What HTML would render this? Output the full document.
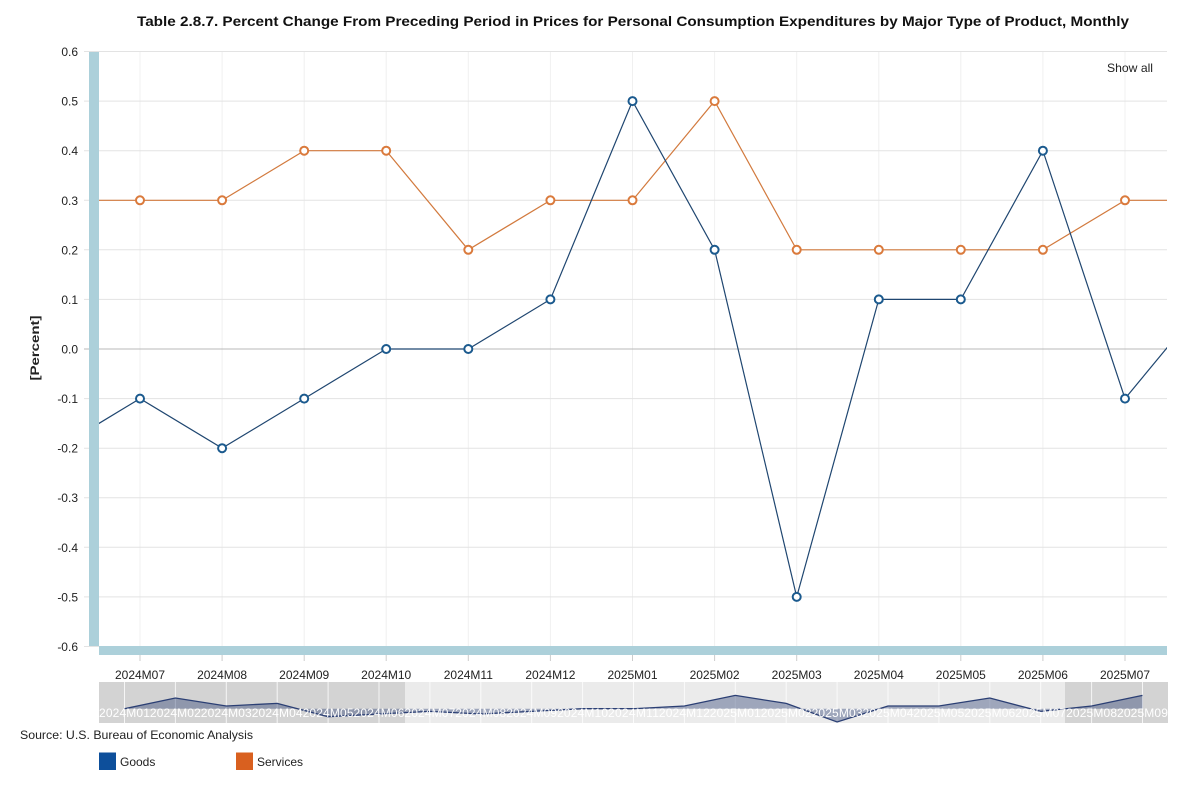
<!DOCTYPE html>
<html><head><meta charset="utf-8"><style>
html,body{margin:0;padding:0;background:#fff;}
svg{display:block;font-family:"Liberation Sans",Arial,sans-serif;}
</style></head><body>
<svg width="1187" height="800" viewBox="0 0 1187 800" xmlns="http://www.w3.org/2000/svg">
<defs><clipPath id="pc"><rect x="99" y="40" width="1068" height="620"/></clipPath></defs>
<text x="137" y="26" font-size="14" font-weight="bold" fill="#111" textLength="992" lengthAdjust="spacingAndGlyphs">Table 2.8.7. Percent Change From Preceding Period in Prices for Personal Consumption Expenditures by Major Type of Product, Monthly</text>

<!-- vertical gridlines -->
<g stroke="#f0f0f0" stroke-width="1">
<line x1="140" y1="52" x2="140" y2="646"/><line x1="222.1" y1="52" x2="222.1" y2="646"/><line x1="304.2" y1="52" x2="304.2" y2="646"/><line x1="386.2" y1="52" x2="386.2" y2="646"/><line x1="468.3" y1="52" x2="468.3" y2="646"/><line x1="550.4" y1="52" x2="550.4" y2="646"/><line x1="632.5" y1="52" x2="632.5" y2="646"/><line x1="714.6" y1="52" x2="714.6" y2="646"/><line x1="796.7" y1="52" x2="796.7" y2="646"/><line x1="878.8" y1="52" x2="878.8" y2="646"/><line x1="960.8" y1="52" x2="960.8" y2="646"/><line x1="1042.9" y1="52" x2="1042.9" y2="646"/><line x1="1125" y1="52" x2="1125" y2="646"/>
</g>
<!-- horizontal gridlines -->
<g stroke="#e3e3e3" stroke-width="1">
<line x1="84" y1="51.5" x2="1167" y2="51.5"/><line x1="84" y1="101.1" x2="1167" y2="101.1"/><line x1="84" y1="150.7" x2="1167" y2="150.7"/><line x1="84" y1="200.3" x2="1167" y2="200.3"/><line x1="84" y1="249.8" x2="1167" y2="249.8"/><line x1="84" y1="299.4" x2="1167" y2="299.4"/><line x1="84" y1="398.6" x2="1167" y2="398.6"/><line x1="84" y1="448.2" x2="1167" y2="448.2"/><line x1="84" y1="497.7" x2="1167" y2="497.7"/><line x1="84" y1="547.3" x2="1167" y2="547.3"/><line x1="84" y1="596.9" x2="1167" y2="596.9"/><line x1="84" y1="646.5" x2="1167" y2="646.5"/>
</g>
<line x1="84" y1="349" x2="1167" y2="349" stroke="#b8b8b8" stroke-width="1"/>

<!-- axis bars -->
<rect x="89" y="52" width="10" height="594" fill="#acd0da"/>
<rect x="99" y="646" width="1068" height="9" fill="#acd0da"/>
<g stroke="#ccc" stroke-width="1">
<line x1="140" y1="655" x2="140" y2="661"/><line x1="222.1" y1="655" x2="222.1" y2="661"/><line x1="304.2" y1="655" x2="304.2" y2="661"/><line x1="386.2" y1="655" x2="386.2" y2="661"/><line x1="468.3" y1="655" x2="468.3" y2="661"/><line x1="550.4" y1="655" x2="550.4" y2="661"/><line x1="632.5" y1="655" x2="632.5" y2="661"/><line x1="714.6" y1="655" x2="714.6" y2="661"/><line x1="796.7" y1="655" x2="796.7" y2="661"/><line x1="878.8" y1="655" x2="878.8" y2="661"/><line x1="960.8" y1="655" x2="960.8" y2="661"/><line x1="1042.9" y1="655" x2="1042.9" y2="661"/><line x1="1125" y1="655" x2="1125" y2="661"/>
</g>

<!-- y labels -->
<g font-size="12" fill="#222" text-anchor="end">
<text x="78" y="56">0.6</text><text x="78" y="105.6">0.5</text><text x="78" y="155.2">0.4</text><text x="78" y="204.8">0.3</text><text x="78" y="254.3">0.2</text><text x="78" y="303.9">0.1</text><text x="78" y="353.5">0.0</text><text x="78" y="403.1">-0.1</text><text x="78" y="452.7">-0.2</text><text x="78" y="502.2">-0.3</text><text x="78" y="551.8">-0.4</text><text x="78" y="601.4">-0.5</text><text x="78" y="651">-0.6</text>
</g>
<text transform="translate(39,348) rotate(-90)" text-anchor="middle" font-size="12" font-weight="bold" fill="#222" textLength="65" lengthAdjust="spacingAndGlyphs">[Percent]</text>

<!-- x labels -->
<g font-size="12" fill="#222" text-anchor="middle">
<text x="140" y="679">2024M07</text><text x="222.1" y="679">2024M08</text><text x="304.2" y="679">2024M09</text><text x="386.2" y="679">2024M10</text><text x="468.3" y="679">2024M11</text><text x="550.4" y="679">2024M12</text><text x="632.5" y="679">2025M01</text><text x="714.6" y="679">2025M02</text><text x="796.7" y="679">2025M03</text><text x="878.8" y="679">2025M04</text><text x="960.8" y="679">2025M05</text><text x="1042.9" y="679">2025M06</text><text x="1125" y="679">2025M07</text>
</g>

<text x="1107" y="72" font-size="12" fill="#222" textLength="46" lengthAdjust="spacingAndGlyphs">Show all</text>

<!-- series -->
<g clip-path="url(#pc)" fill="none" stroke-width="1.2">
<polyline stroke="#d27a3e" points="57.9,200.3 140,200.3 222.1,200.3 304.2,150.7 386.2,150.7 468.3,249.8 550.4,200.3 632.5,200.3 714.6,101.1 796.7,249.8 878.8,249.8 960.8,249.8 1042.9,249.8 1125,200.3 1207.1,200.3"/>
<polyline stroke="#1f4670" points="57.9,448.2 140,398.6 222.1,448.2 304.2,398.6 386.2,349 468.3,349 550.4,299.4 632.5,101.1 714.6,249.8 796.7,596.9 878.8,299.4 960.8,299.4 1042.9,150.7 1125,398.6 1207.1,299.4"/>
</g>
<g fill="#fff" stroke="#da7a3c" stroke-width="2">
<circle cx="140" cy="200.3" r="4"/><circle cx="222.1" cy="200.3" r="4"/><circle cx="304.2" cy="150.7" r="4"/><circle cx="386.2" cy="150.7" r="4"/><circle cx="468.3" cy="249.8" r="4"/><circle cx="550.4" cy="200.3" r="4"/><circle cx="632.5" cy="200.3" r="4"/><circle cx="714.6" cy="101.1" r="4"/><circle cx="796.7" cy="249.8" r="4"/><circle cx="878.8" cy="249.8" r="4"/><circle cx="960.8" cy="249.8" r="4"/><circle cx="1042.9" cy="249.8" r="4"/><circle cx="1125" cy="200.3" r="4"/>
</g>
<g fill="#fff" stroke="#1b5a8e" stroke-width="2">
<circle cx="140" cy="398.6" r="4"/><circle cx="222.1" cy="448.2" r="4"/><circle cx="304.2" cy="398.6" r="4"/><circle cx="386.2" cy="349" r="4"/><circle cx="468.3" cy="349" r="4"/><circle cx="550.4" cy="299.4" r="4"/><circle cx="632.5" cy="101.1" r="4"/><circle cx="714.6" cy="249.8" r="4"/><circle cx="796.7" cy="596.9" r="4"/><circle cx="878.8" cy="299.4" r="4"/><circle cx="960.8" cy="299.4" r="4"/><circle cx="1042.9" cy="150.7" r="4"/><circle cx="1125" cy="398.6" r="4"/>
</g>

<!-- navigator -->
<rect x="99" y="682" width="1069" height="41" fill="#d3d3d3"/>
<rect x="405" y="682" width="660" height="41" fill="#ebebeb"/>
<g stroke="#fff" stroke-width="1" opacity="0.8">
<line x1="124.5" y1="682" x2="124.5" y2="723"/><line x1="175.4" y1="682" x2="175.4" y2="723"/><line x1="226.3" y1="682" x2="226.3" y2="723"/><line x1="277.2" y1="682" x2="277.2" y2="723"/><line x1="328.1" y1="682" x2="328.1" y2="723"/><line x1="379" y1="682" x2="379" y2="723"/><line x1="429.9" y1="682" x2="429.9" y2="723"/><line x1="480.8" y1="682" x2="480.8" y2="723"/><line x1="531.7" y1="682" x2="531.7" y2="723"/><line x1="582.6" y1="682" x2="582.6" y2="723"/><line x1="633.5" y1="682" x2="633.5" y2="723"/><line x1="684.4" y1="682" x2="684.4" y2="723"/><line x1="735.3" y1="682" x2="735.3" y2="723"/><line x1="786.2" y1="682" x2="786.2" y2="723"/><line x1="837.1" y1="682" x2="837.1" y2="723"/><line x1="888" y1="682" x2="888" y2="723"/><line x1="938.9" y1="682" x2="938.9" y2="723"/><line x1="989.8" y1="682" x2="989.8" y2="723"/><line x1="1040.7" y1="682" x2="1040.7" y2="723"/><line x1="1091.6" y1="682" x2="1091.6" y2="723"/><line x1="1142.5" y1="682" x2="1142.5" y2="723"/>
</g>
<polygon fill="#2b3f74" fill-opacity="0.4" points="124.5,708.7 175.4,698 226.3,706 277.2,703.4 328.1,716.7 379,714 429.9,711.4 480.8,714 531.7,711.4 582.6,708.7 633.5,708.7 684.4,706 735.3,695.4 786.2,703.4 837.1,722 888,706 938.9,706 989.8,698 1040.7,711.4 1091.6,706 1142.5,695.4 1142.5,708.7"/>
<polyline fill="none" stroke="#2b3f74" stroke-width="1.3" points="124.5,708.7 175.4,698 226.3,706 277.2,703.4 328.1,716.7 379,714 429.9,711.4 480.8,714 531.7,711.4 582.6,708.7 633.5,708.7 684.4,706 735.3,695.4 786.2,703.4 837.1,722 888,706 938.9,706 989.8,698 1040.7,711.4 1091.6,706 1142.5,695.4"/>
<g font-size="12" fill="#fff" lengthAdjust="spacingAndGlyphs">
<text x="99" y="717" textLength="50.9">2024M01</text><text x="149.9" y="717" textLength="50.9">2024M02</text><text x="200.8" y="717" textLength="50.9">2024M03</text><text x="251.7" y="717" textLength="50.9">2024M04</text><text x="302.6" y="717" textLength="50.9">2024M05</text><text x="353.5" y="717" textLength="50.9">2024M06</text><text x="404.4" y="717" textLength="50.9">2024M07</text><text x="455.3" y="717" textLength="50.9">2024M08</text><text x="506.2" y="717" textLength="50.9">2024M09</text><text x="557.1" y="717" textLength="50.9">2024M10</text><text x="608" y="717" textLength="50.9">2024M11</text><text x="658.9" y="717" textLength="50.9">2024M12</text><text x="709.8" y="717" textLength="50.9">2025M01</text><text x="760.7" y="717" textLength="50.9">2025M02</text><text x="811.6" y="717" textLength="50.9">2025M03</text><text x="862.5" y="717" textLength="50.9">2025M04</text><text x="913.4" y="717" textLength="50.9">2025M05</text><text x="964.3" y="717" textLength="50.9">2025M06</text><text x="1015.2" y="717" textLength="50.9">2025M07</text><text x="1066.1" y="717" textLength="50.9">2025M08</text><text x="1117" y="717" textLength="50.9">2025M09</text>
</g>

<text x="20" y="739" font-size="12" fill="#222" textLength="233" lengthAdjust="spacingAndGlyphs">Source: U.S. Bureau of Economic Analysis</text>

<rect x="99" y="752.5" width="17" height="17.5" fill="#0d4f9b"/>
<text x="120" y="766" font-size="12" fill="#222">Goods</text>
<rect x="236" y="752.5" width="17" height="17.5" fill="#d9601f"/>
<text x="257" y="766" font-size="12" fill="#222">Services</text>
</svg>
</body></html>
